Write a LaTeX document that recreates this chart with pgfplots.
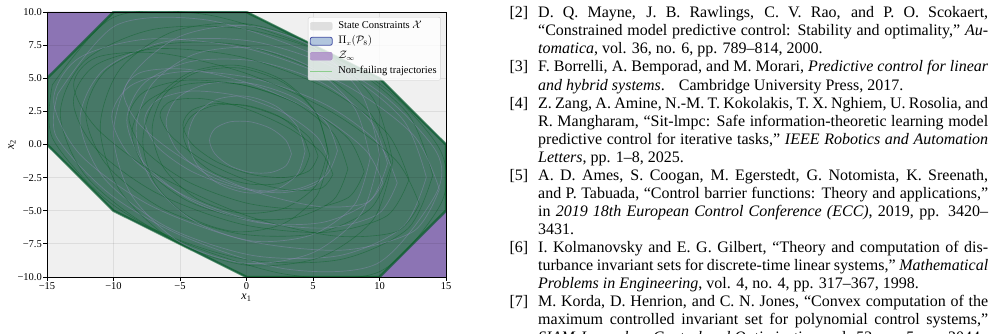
\documentclass[border=0pt]{standalone}
\usepackage{pgfplots}
\pgfplotsset{compat=1.18}
\usepackage{fontspec}
\setmainfont{Liberation Serif}

\definecolor{constrgray}{RGB}{240,240,240}
\definecolor{setblue}{RGB}{70,120,185}
\definecolor{setedge}{RGB}{70,80,165}
\definecolor{zinfpurple}{RGB}{115,85,165}
\definecolor{trajgreen}{RGB}{0,95,30}
\definecolor{trajlight}{RGB}{150,140,190}
\definecolor{trajfill}{RGB}{40,130,60}

\newcommand{\bibfont}{\fontsize{16bp}{18bp}\selectfont}
% justified line, left-aligned last line, and entry number
\newcommand{\jline}[2]{\node[anchor=base west, inner sep=0pt] at (538,#1) {\bibfont\makebox[450bp][s]{#2}};}
\newcommand{\lline}[2]{\node[anchor=base west, inner sep=0pt] at (538,#1) {\bibfont #2};}
\newcommand{\blabel}[2]{\node[anchor=base east, inner sep=0pt] at (528.5,#1) {\bibfont [#2]};}

\pgfplotsset{
  swatch/.style={legend image code/.code={\draw[##1] (0bp,-4bp) rectangle (22bp,4bp);}},
  lineswatch/.style={legend image code/.code={\draw[##1] (0bp,0bp) -- (22bp,0bp);}},
  traj/.style={trajgreen, opacity=0.4, line width=0.6bp, smooth, forget plot},
  trajl/.style={trajlight, opacity=0.4, line width=0.7bp, smooth, forget plot},
}

\begin{document}
\begin{tikzpicture}[x=1bp,y=1bp]
\useasboundingbox (0,0) rectangle (998,333);
\begin{axis}[
  at={(47bp,56bp)}, anchor=south west,
  scale only axis, width=399bp, height=265bp,
  xmin=-15, xmax=15, ymin=-10, ymax=10,
  xtick={-15,-10,-5,0,5,10,15},
  xticklabels={−15,−10,−5,0,5,10,15},
  ytick={-10,-7.5,-5,-2.5,0,2.5,5,7.5,10},
  yticklabels={−10.0,−7.5,−5.0,−2.5,0.0,2.5,5.0,7.5,10.0},
  tick pos=left, tick align=outside,
  major tick length=3.5bp,
  tick style={black, line width=0.8bp},
  ticklabel style={font=\fontsize{10.5bp}{12bp}\selectfont},
  xticklabel style={inner sep=1.5bp},
  yticklabel style={inner sep=1.5bp},
  grid=major, major grid style={black, opacity=0.08, line width=0.8bp},
  axis line style={black, line width=0.8bp},
  axis background/.style={fill=constrgray},
  axis on top,
  xlabel={\fontsize{12bp}{14bp}\selectfont\textit{x}\textsubscript{1}},
  ylabel={\fontsize{12bp}{14bp}\selectfont\textit{x}\textsubscript{2}},
  xlabel style={at={(axis description cs:0.5,-0.079)}, anchor=center},
  ylabel style={at={(axis description cs:-0.0877,0.5)}, anchor=center},
  legend cell align=left,
  legend style={at={(0.987,0.981)}, anchor=north east,
    fill=white, fill opacity=0.8, text opacity=1, draw=black!18,
    rounded corners=2bp, inner sep=1.5bp,
    font=\fontsize{10.5bp}{12bp}\selectfont,
    nodes={text height=7.5bp, text depth=2.5bp, inner sep=2.5bp},
    column sep=3bp},
]
% projection of the 8-step feasible set
\addplot[fill=setblue, fill opacity=0.45, draw=setedge, line width=0.8bp, forget plot]
  coordinates {(-15,5) (-10,10) (0,10) (10,5) (15,0) (15,-5) (10,-10) (0,-10) (-10,-5) (-15,0)} -- cycle;
% maximal invariant set
\addplot[fill=zinfpurple, fill opacity=0.8, draw=none, forget plot]
  coordinates {(-15,10) (0,10) (10,5) (15,0) (15,-10) (0,-10) (-10,-5) (-15,0)} -- cycle;
% region swept by the trajectories
\addplot[fill=trajfill, fill opacity=0.62, draw=none, forget plot]
  coordinates {(-15,5) (-10,10) (0,10) (10,5) (15,0) (15,-5) (10,-10) (0,-10) (-10,-5) (-15,0)} -- cycle;
% trajectories crowding the boundary
\addplot[trajgreen, opacity=0.6, line width=2.5bp, forget plot]
  coordinates {(-15,5) (-10,10) (0,10) (10,5) (15,0) (15,-5) (10,-10) (0,-10) (-10,-5) (-15,0) (-15,5)};
\addplot[traj] coordinates {(-14.6,4.5) (-10,9.6) (-3,9.8) (5,7.3) (10.5,4.2) (14.6,-0.5) (14.6,-4.5) (10,-9.6) (3,-9.8) (-5,-7.3) (-10.5,-4.2) (-14.6,0.5) (-14.6,4.5)};
\addplot[trajl] coordinates {(-14.2,3.8) (-9.8,9.0) (-3,9.4) (4.6,7.0) (10.2,3.8) (14.3,-0.6) (14.2,-3.8) (9.8,-9.0) (3,-9.4) (-4.6,-7.0) (-10.2,-3.8) (-14.3,0.6) (-14.2,3.8)};
% closed-loop trajectories
\addplot[traj] coordinates {(14.00,-2.33) (12.12,2.33) (7.00,6.36) (0,8.69) (-7.00,8.69) (-12.12,6.36) (-14.00,2.33) (-12.12,-2.33) (-7.00,-6.36) (0,-8.69) (7.00,-8.69) (12.12,-6.36) (14.00,-2.33)};
\addplot[trajl] coordinates {(13.52,-2.47) (11.77,1.87) (7.01,5.61) (0.5,7.78) (-6.01,7.78) (-10.77,5.61) (-12.52,1.87) (-10.77,-2.47) (-6.01,-6.21) (0.5,-8.38) (7.01,-8.38) (11.77,-6.21) (13.52,-2.47)};
\addplot[traj] coordinates {(10.88,-1.51) (9.34,2.31) (5.14,5.62) (-0.6,7.53) (-6.34,7.53) (-10.54,5.62) (-12.08,2.31) (-10.54,-1.51) (-6.34,-4.82) (-0.6,-6.73) (5.14,-6.73) (9.34,-4.82) (10.88,-1.51)};
\addplot[trajl] coordinates {(10.60,-1.43) (9.28,1.83) (5.70,4.65) (0.8,6.28) (-4.10,6.28) (-7.68,4.65) (-9.00,1.83) (-7.68,-1.43) (-4.10,-4.25) (0.8,-5.88) (5.70,-5.88) (9.28,-4.25) (10.60,-1.43)};
\addplot[traj] coordinates {(7.62,-1.85) (6.53,0.85) (3.56,3.19) (-0.5,4.54) (-4.56,4.54) (-7.53,3.19) (-8.62,0.85) (-7.53,-1.85) (-4.56,-4.19) (-0.5,-5.54) (3.56,-5.54) (6.53,-4.19) (7.62,-1.85)};
\addplot[trajl] coordinates {(6.84,-0.47) (5.98,1.67) (3.62,3.53) (0.4,4.60) (-2.82,4.60) (-5.18,3.53) (-6.04,1.67) (-5.18,-0.47) (-2.82,-2.33) (0.4,-3.40) (3.62,-3.40) (5.98,-2.33) (6.84,-0.47)};
\addplot[traj] coordinates {(4.76,-0.79) (4.12,0.79) (2.38,2.16) (0,2.95) (-2.38,2.95) (-4.12,2.16) (-4.76,0.79) (-4.12,-0.79) (-2.38,-2.16) (0,-2.95) (2.38,-2.95) (4.12,-2.16) (4.76,-0.79)};
\addplot[trajl] coordinates {(3.38,-0.71) (2.97,0.31) (1.84,1.20) (0.3,1.71) (-1.24,1.71) (-2.37,1.20) (-2.78,0.31) (-2.37,-0.71) (-1.24,-1.60) (0.3,-2.11) (1.84,-2.11) (2.97,-1.60) (3.38,-0.71)};
\addplot[trajl] coordinates {(14.5,-3.38) (12.56,0.70) (7.25,4.59) (0,7.25) (-7.25,7.97) (-12.56,6.55) (-14.5,3.38) (-12.56,-0.70) (-7.25,-4.59) (0,-7.25) (7.25,-7.97) (12.56,-6.55) (14.5,-3.38)};
\addplot[traj] coordinates {(12.22,-2.64) (10.53,0.91) (5.91,4.29) (-0.4,6.61) (-6.71,7.23) (-11.33,6.00) (-13.02,3.24) (-11.33,-0.31) (-6.71,-3.69) (-0.4,-6.01) (5.91,-6.63) (10.53,-5.40) (12.22,-2.64)};
\addplot[trajl] coordinates {(11.33,-2.90) (9.89,0.12) (5.97,3.00) (0.6,4.97) (-4.77,5.50) (-8.69,4.45) (-10.13,2.10) (-8.69,-0.92) (-4.77,-3.80) (0.6,-5.77) (5.97,-6.30) (9.89,-5.25) (11.33,-2.90)};
\addplot[traj] coordinates {(8.85,-2.06) (7.66,0.43) (4.42,2.80) (0,4.42) (-4.42,4.86) (-7.66,4.00) (-8.85,2.06) (-7.66,-0.43) (-4.42,-2.80) (0,-4.42) (4.42,-4.86) (7.66,-4.00) (8.85,-2.06)};
\addplot[trajl] coordinates {(6.26,-1.42) (5.33,0.54) (2.78,2.40) (-0.7,3.68) (-4.18,4.03) (-6.73,3.34) (-7.66,1.82) (-6.73,-0.14) (-4.18,-2.00) (-0.7,-3.28) (2.78,-3.63) (5.33,-2.94) (6.26,-1.42)};
\addplot[traj] coordinates {(5.38,-0.88) (4.70,0.55) (2.84,1.91) (0.3,2.84) (-2.24,3.09) (-4.10,2.59) (-4.78,1.48) (-4.10,0.05) (-2.24,-1.31) (0.3,-2.24) (2.84,-2.49) (4.70,-1.99) (5.38,-0.88)};
\addplot[traj] coordinates {(11,-1.28) (9.53,3.45) (5.5,7.25) (0,9.11) (-5.5,8.53) (-9.53,5.66) (-11,1.28) (-9.53,-3.45) (-5.5,-7.25) (0,-9.11) (5.5,-8.53) (9.53,-5.66) (11,-1.28)};
\addplot[trajl] coordinates {(9.3,-1.02) (8.12,2.76) (4.9,5.8) (0.5,7.29) (-3.9,6.82) (-7.12,4.53) (-8.3,1.02) (-7.12,-2.76) (-3.9,-5.8) (0.5,-7.29) (4.9,-6.82) (8.12,-4.53) (9.3,-1.02)};
\addplot[traj] coordinates {(6.1,-0.47) (5.22,2.37) (2.8,4.65) (-0.5,5.77) (-3.8,5.42) (-6.22,3.70) (-7.1,1.07) (-6.22,-1.77) (-3.8,-4.05) (-0.5,-5.17) (2.8,-4.82) (5.22,-3.10) (6.1,-0.47)};
\addplot[trajl] coordinates {(4.4,-0.51) (3.81,1.38) (2.2,2.9) (0,3.64) (-2.2,3.41) (-3.81,2.26) (-4.4,0.51) (-3.81,-1.38) (-2.2,-2.9) (0,-3.64) (2.2,-3.41) (3.81,-2.26) (4.4,-0.51)};
\addplot[traj] coordinates {(13,-4.50) (11.26,-1.22) (6.5,2.39) (0,5.36) (-6.5,6.89) (-11.26,6.58) (-13,4.50) (-11.26,1.22) (-6.5,-2.39) (0,-5.36) (6.5,-6.89) (11.26,-6.58) (13,-4.50)};
\addplot[trajl] coordinates {(10.25,-2.88) (8.95,-0.42) (5.38,2.29) (0.5,4.52) (-4.38,5.67) (-7.95,5.44) (-9.25,3.88) (-7.95,1.42) (-4.38,-1.29) (0.5,-3.52) (5.38,-4.67) (8.95,-4.44) (10.25,-2.88)};
\addplot[traj] coordinates {(6.5,-2.25) (5.63,-0.61) (3.25,1.20) (0,2.68) (-3.25,3.45) (-5.63,3.29) (-6.5,2.25) (-5.63,0.61) (-3.25,-1.20) (0,-2.68) (3.25,-3.45) (5.63,-3.29) (6.5,-2.25)};
\addplot[trajl] coordinates {(10,-0.78) (8.66,3.80) (5,7.37) (0,8.97) (-5,8.16) (-8.66,5.16) (-10,0.78) (-8.66,-3.80) (-5,-7.37) (0,-8.97) (5,-8.16) (8.66,-5.16) (10,-0.78)};
\addplot[traj] coordinates {(6.2,-0.85) (5.26,2.36) (2.7,4.86) (-0.8,5.98) (-4.3,5.41) (-6.86,3.31) (-7.8,0.25) (-6.86,-2.96) (-4.3,-5.46) (-0.8,-6.58) (2.7,-6.01) (5.26,-3.91) (6.2,-0.85)};

\addlegendimage{swatch, fill=constrgray!90!black, draw=black!12}
\addlegendentry{State Constraints $\mathcal{X}$}
\addlegendimage{swatch, fill={rgb,255:red,160;green,185;blue,215}, draw=setedge, line width=0.8bp}
\addlegendentry{$\Pi_x(\mathcal{P}_8)$}
\addlegendimage{swatch, fill={rgb,255:red,172;green,140;blue,200}, draw={rgb,255:red,172;green,140;blue,200}}
\addlegendentry{$\mathcal{Z}_\infty$}
\addlegendimage{lineswatch, draw={rgb,255:red,140;green,205;blue,140}, line width=1.2bp}
\addlegendentry{Non-failing trajectories}
\end{axis}

% reference list
\blabel{315.2}{2}
\jline{315.2}{D. Q. Mayne, J. B. Rawlings, C. V. Rao, and P. O. Scokaert,}
\jline{297.15}{“Constrained model predictive control: Stability and optimality,” \textit{Au-}}
\lline{279.1}{\textit{tomatica}, vol. 36, no. 6, pp. 789–814, 2000.}
\blabel{261.05}{3}
\jline{261.05}{F. Borrelli, A. Bemporad, and M. Morari, \textit{Predictive control for linear}}
\lline{243.0}{\textit{and hybrid systems}.\hspace{14bp}Cambridge University Press, 2017.}
\blabel{224.95}{4}
\jline{224.95}{Z. Zang, A. Amine, N.-M. T. Kokolakis, T. X. Nghiem, U. Rosolia, and}
\jline{206.9}{R. Mangharam, “Sit-lmpc: Safe information-theoretic learning model}
\jline{188.85}{predictive control for iterative tasks,” \textit{IEEE Robotics and Automation}}
\lline{170.8}{\textit{Letters}, pp. 1–8, 2025.}
\blabel{152.75}{5}
\jline{152.75}{A. D. Ames, S. Coogan, M. Egerstedt, G. Notomista, K. Sreenath,}
\jline{134.7}{and P. Tabuada, “Control barrier functions: Theory and applications,”}
\jline{116.65}{in \textit{2019 18th European Control Conference (ECC)}, 2019, pp. 3420–}
\lline{98.6}{3431.}
\blabel{80.55}{6}
\jline{80.55}{I. Kolmanovsky and E. G. Gilbert, “Theory and computation of dis-}
\jline{62.5}{turbance invariant sets for discrete-time linear systems,” \textit{Mathematical}}
\lline{44.45}{\textit{Problems in Engineering}, vol. 4, no. 4, pp. 317–367, 1998.}
\blabel{26.4}{7}
\jline{26.4}{M. Korda, D. Henrion, and C. N. Jones, “Convex computation of the}
\jline{8.35}{maximum controlled invariant set for polynomial control systems,”}
\jline{-9.7}{\textit{SIAM Journal on Control and Optimization}, vol. 52, no. 5, pp. 2044–}
\end{tikzpicture}
\end{document}
